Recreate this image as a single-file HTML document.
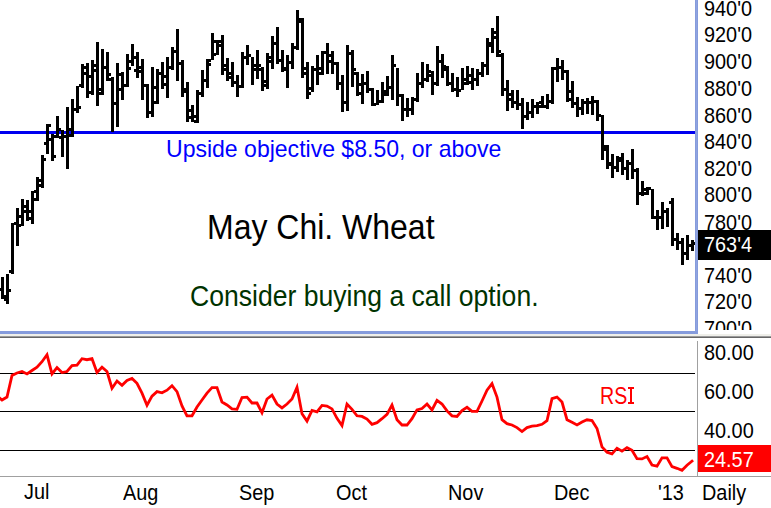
<!DOCTYPE html>
<html><head><meta charset="utf-8"><style>
html,body{margin:0;padding:0;background:#fff;}
body{width:771px;height:508px;position:relative;overflow:hidden;font-family:"Liberation Sans",sans-serif;}
.t{position:absolute;white-space:nowrap;line-height:1;}
.ax{font-size:19px;color:#000;}
</style></head><body>
<svg width="771" height="508" style="position:absolute;left:0;top:0">
<g shape-rendering="crispEdges">
<rect x="0" y="131" width="695" height="3" fill="#0000f0"/>
<g fill="#000"><rect x="1" y="277" width="3" height="22"/><rect x="6" y="274" width="3" height="30"/><rect x="11" y="223" width="3" height="51"/><rect x="16" y="208" width="3" height="38"/><rect x="21" y="199" width="3" height="27"/><rect x="26" y="200" width="3" height="21"/><rect x="31" y="191" width="3" height="33"/><rect x="36" y="177" width="3" height="24"/><rect x="41" y="155" width="3" height="33"/><rect x="46" y="124" width="3" height="30"/><rect x="51" y="134" width="3" height="27"/><rect x="56" y="116" width="3" height="22"/><rect x="61" y="130" width="3" height="27"/><rect x="66" y="107" width="3" height="62"/><rect x="71" y="99" width="3" height="38"/><rect x="76" y="86" width="3" height="27"/><rect x="81" y="64" width="3" height="24"/><rect x="86" y="63" width="3" height="35"/><rect x="91" y="60" width="3" height="35"/><rect x="96" y="42" width="3" height="64"/><rect x="101" y="49" width="3" height="46"/><rect x="106" y="52" width="3" height="29"/><rect x="111" y="77" width="3" height="55"/><rect x="116" y="63" width="3" height="64"/><rect x="121" y="72" width="3" height="28"/><rect x="126" y="54" width="3" height="33"/><rect x="131" y="44" width="3" height="22"/><rect x="136" y="52" width="3" height="26"/><rect x="141" y="59" width="3" height="41"/><rect x="146" y="84" width="3" height="34"/><rect x="151" y="67" width="3" height="50"/><rect x="156" y="69" width="3" height="35"/><rect x="161" y="62" width="3" height="27"/><rect x="166" y="57" width="3" height="41"/><rect x="171" y="47" width="3" height="23"/><rect x="176" y="29" width="3" height="52"/><rect x="181" y="60" width="3" height="37"/><rect x="186" y="82" width="3" height="40"/><rect x="191" y="105" width="3" height="17"/><rect x="196" y="90" width="3" height="33"/><rect x="201" y="70" width="3" height="27"/><rect x="206" y="59" width="3" height="29"/><rect x="211" y="33" width="3" height="27"/><rect x="216" y="40" width="3" height="15"/><rect x="221" y="35" width="3" height="40"/><rect x="226" y="58" width="3" height="23"/><rect x="231" y="62" width="3" height="25"/><rect x="236" y="75" width="3" height="22"/><rect x="241" y="52" width="3" height="36"/><rect x="246" y="45" width="3" height="20"/><rect x="251" y="57" width="3" height="28"/><rect x="256" y="50" width="3" height="29"/><rect x="261" y="67" width="3" height="24"/><rect x="266" y="53" width="3" height="36"/><rect x="271" y="36" width="3" height="33"/><rect x="276" y="27" width="3" height="37"/><rect x="281" y="50" width="3" height="22"/><rect x="286" y="55" width="3" height="33"/><rect x="291" y="43" width="3" height="26"/><rect x="296" y="10" width="3" height="40"/><rect x="301" y="18" width="3" height="60"/><rect x="306" y="62" width="3" height="37"/><rect x="311" y="66" width="3" height="26"/><rect x="316" y="55" width="3" height="30"/><rect x="321" y="51" width="3" height="24"/><rect x="326" y="43" width="3" height="31"/><rect x="331" y="51" width="3" height="23"/><rect x="336" y="62" width="3" height="28"/><rect x="341" y="75" width="3" height="37"/><rect x="346" y="45" width="3" height="66"/><rect x="351" y="50" width="3" height="37"/><rect x="356" y="72" width="3" height="24"/><rect x="361" y="74" width="3" height="30"/><rect x="366" y="71" width="3" height="22"/><rect x="371" y="88" width="3" height="18"/><rect x="376" y="90" width="3" height="15"/><rect x="381" y="82" width="3" height="21"/><rect x="386" y="76" width="3" height="20"/><rect x="391" y="55" width="3" height="45"/><rect x="396" y="68" width="3" height="38"/><rect x="401" y="94" width="3" height="27"/><rect x="406" y="98" width="3" height="19"/><rect x="411" y="97" width="3" height="18"/><rect x="416" y="73" width="3" height="29"/><rect x="421" y="62" width="3" height="26"/><rect x="426" y="64" width="3" height="18"/><rect x="431" y="71" width="3" height="24"/><rect x="436" y="46" width="3" height="40"/><rect x="441" y="54" width="3" height="24"/><rect x="446" y="66" width="3" height="20"/><rect x="451" y="73" width="3" height="19"/><rect x="456" y="77" width="3" height="20"/><rect x="461" y="68" width="3" height="22"/><rect x="466" y="66" width="3" height="19"/><rect x="471" y="68" width="3" height="22"/><rect x="476" y="69" width="3" height="17"/><rect x="481" y="62" width="3" height="15"/><rect x="486" y="38" width="3" height="37"/><rect x="491" y="28" width="3" height="25"/><rect x="496" y="16" width="3" height="41"/><rect x="501" y="53" width="3" height="43"/><rect x="506" y="80" width="3" height="31"/><rect x="511" y="90" width="3" height="18"/><rect x="516" y="90" width="3" height="20"/><rect x="521" y="98" width="3" height="31"/><rect x="526" y="102" width="3" height="18"/><rect x="531" y="99" width="3" height="19"/><rect x="536" y="102" width="3" height="12"/><rect x="541" y="96" width="3" height="12"/><rect x="546" y="94" width="3" height="15"/><rect x="551" y="67" width="3" height="37"/><rect x="556" y="58" width="3" height="24"/><rect x="561" y="60" width="3" height="20"/><rect x="566" y="70" width="3" height="32"/><rect x="571" y="81" width="3" height="27"/><rect x="576" y="97" width="3" height="20"/><rect x="581" y="99" width="3" height="16"/><rect x="586" y="98" width="3" height="16"/><rect x="591" y="96" width="3" height="19"/><rect x="596" y="100" width="3" height="21"/><rect x="601" y="115" width="3" height="45"/><rect x="606" y="145" width="3" height="24"/><rect x="611" y="154" width="3" height="24"/><rect x="616" y="156" width="3" height="16"/><rect x="621" y="153" width="3" height="22"/><rect x="626" y="160" width="3" height="20"/><rect x="631" y="149" width="3" height="30"/><rect x="636" y="168" width="3" height="37"/><rect x="641" y="181" width="3" height="15"/><rect x="646" y="187" width="3" height="8"/><rect x="651" y="189" width="3" height="30"/><rect x="656" y="210" width="3" height="20"/><rect x="661" y="202" width="3" height="27"/><rect x="666" y="208" width="3" height="19"/><rect x="671" y="198" width="3" height="48"/><rect x="676" y="233" width="3" height="17"/><rect x="681" y="238" width="3" height="27"/><rect x="686" y="235" width="3" height="25"/><rect x="691" y="240" width="3" height="11"/><rect x="4" y="295" width="2" height="3"/><rect x="4" y="298" width="2" height="3"/><rect x="9" y="289" width="2" height="3"/><rect x="9" y="270" width="2" height="3"/><rect x="14" y="222" width="2" height="3"/><rect x="19" y="215" width="2" height="3"/><rect x="19" y="224" width="2" height="3"/><rect x="24" y="205" width="2" height="3"/><rect x="24" y="210" width="2" height="3"/><rect x="29" y="210" width="2" height="3"/><rect x="29" y="217" width="2" height="3"/><rect x="34" y="190" width="2" height="3"/><rect x="34" y="198" width="2" height="3"/><rect x="39" y="179" width="2" height="3"/><rect x="39" y="184" width="2" height="3"/><rect x="44" y="142" width="2" height="3"/><rect x="44" y="158" width="2" height="3"/><rect x="49" y="124" width="2" height="3"/><rect x="49" y="138" width="2" height="3"/><rect x="54" y="135" width="2" height="3"/><rect x="54" y="155" width="2" height="3"/><rect x="59" y="128" width="2" height="3"/><rect x="59" y="136" width="2" height="3"/><rect x="64" y="135" width="2" height="3"/><rect x="69" y="128" width="2" height="3"/><rect x="69" y="134" width="2" height="3"/><rect x="74" y="108" width="2" height="3"/><rect x="79" y="106" width="2" height="3"/><rect x="79" y="84" width="2" height="3"/><rect x="84" y="66" width="2" height="3"/><rect x="84" y="72" width="2" height="3"/><rect x="89" y="75" width="2" height="3"/><rect x="89" y="91" width="2" height="3"/><rect x="94" y="64" width="2" height="3"/><rect x="94" y="69" width="2" height="3"/><rect x="99" y="88" width="2" height="3"/><rect x="99" y="92" width="2" height="3"/><rect x="104" y="66" width="2" height="3"/><rect x="109" y="73" width="2" height="3"/><rect x="109" y="78" width="2" height="3"/><rect x="114" y="102" width="2" height="3"/><rect x="119" y="73" width="2" height="3"/><rect x="119" y="88" width="2" height="3"/><rect x="124" y="84" width="2" height="3"/><rect x="129" y="60" width="2" height="3"/><rect x="129" y="67" width="2" height="3"/><rect x="134" y="56" width="2" height="3"/><rect x="134" y="69" width="2" height="3"/><rect x="139" y="66" width="2" height="3"/><rect x="139" y="70" width="2" height="3"/><rect x="144" y="84" width="2" height="3"/><rect x="149" y="111" width="2" height="3"/><rect x="154" y="86" width="2" height="3"/><rect x="154" y="101" width="2" height="3"/><rect x="159" y="72" width="2" height="3"/><rect x="164" y="75" width="2" height="3"/><rect x="164" y="83" width="2" height="3"/><rect x="169" y="66" width="2" height="3"/><rect x="174" y="50" width="2" height="3"/><rect x="179" y="62" width="2" height="3"/><rect x="184" y="88" width="2" height="3"/><rect x="184" y="90" width="2" height="3"/><rect x="189" y="109" width="2" height="3"/><rect x="189" y="116" width="2" height="3"/><rect x="194" y="115" width="2" height="3"/><rect x="194" y="120" width="2" height="3"/><rect x="199" y="92" width="2" height="3"/><rect x="204" y="79" width="2" height="3"/><rect x="209" y="59" width="2" height="3"/><rect x="209" y="63" width="2" height="3"/><rect x="214" y="40" width="2" height="3"/><rect x="214" y="53" width="2" height="3"/><rect x="219" y="40" width="2" height="3"/><rect x="219" y="44" width="2" height="3"/><rect x="224" y="64" width="2" height="3"/><rect x="224" y="68" width="2" height="3"/><rect x="229" y="72" width="2" height="3"/><rect x="229" y="76" width="2" height="3"/><rect x="234" y="81" width="2" height="3"/><rect x="239" y="85" width="2" height="3"/><rect x="244" y="56" width="2" height="3"/><rect x="249" y="54" width="2" height="3"/><rect x="254" y="64" width="2" height="3"/><rect x="254" y="68" width="2" height="3"/><rect x="259" y="64" width="2" height="3"/><rect x="259" y="68" width="2" height="3"/><rect x="264" y="80" width="2" height="3"/><rect x="264" y="84" width="2" height="3"/><rect x="269" y="56" width="2" height="3"/><rect x="269" y="60" width="2" height="3"/><rect x="274" y="42" width="2" height="3"/><rect x="279" y="59" width="2" height="3"/><rect x="284" y="67" width="2" height="3"/><rect x="284" y="68" width="2" height="3"/><rect x="289" y="61" width="2" height="3"/><rect x="294" y="46" width="2" height="3"/><rect x="299" y="18" width="2" height="3"/><rect x="299" y="20" width="2" height="3"/><rect x="304" y="67" width="2" height="3"/><rect x="304" y="72" width="2" height="3"/><rect x="309" y="87" width="2" height="3"/><rect x="309" y="92" width="2" height="3"/><rect x="314" y="68" width="2" height="3"/><rect x="319" y="67" width="2" height="3"/><rect x="319" y="72" width="2" height="3"/><rect x="324" y="51" width="2" height="3"/><rect x="329" y="54" width="2" height="3"/><rect x="329" y="60" width="2" height="3"/><rect x="334" y="62" width="2" height="3"/><rect x="339" y="82" width="2" height="3"/><rect x="344" y="101" width="2" height="3"/><rect x="349" y="52" width="2" height="3"/><rect x="354" y="68" width="2" height="3"/><rect x="354" y="72" width="2" height="3"/><rect x="359" y="83" width="2" height="3"/><rect x="359" y="92" width="2" height="3"/><rect x="364" y="82" width="2" height="3"/><rect x="369" y="88" width="2" height="3"/><rect x="374" y="103" width="2" height="3"/><rect x="379" y="100" width="2" height="3"/><rect x="384" y="90" width="2" height="3"/><rect x="384" y="93" width="2" height="3"/><rect x="389" y="86" width="2" height="3"/><rect x="394" y="64" width="2" height="3"/><rect x="399" y="94" width="2" height="3"/><rect x="404" y="108" width="2" height="3"/><rect x="409" y="108" width="2" height="3"/><rect x="414" y="98" width="2" height="3"/><rect x="419" y="82" width="2" height="3"/><rect x="424" y="78" width="2" height="3"/><rect x="429" y="70" width="2" height="3"/><rect x="429" y="74" width="2" height="3"/><rect x="434" y="82" width="2" height="3"/><rect x="439" y="60" width="2" height="3"/><rect x="444" y="65" width="2" height="3"/><rect x="444" y="68" width="2" height="3"/><rect x="449" y="82" width="2" height="3"/><rect x="454" y="88" width="2" height="3"/><rect x="459" y="89" width="2" height="3"/><rect x="464" y="78" width="2" height="3"/><rect x="464" y="82" width="2" height="3"/><rect x="469" y="74" width="2" height="3"/><rect x="469" y="81" width="2" height="3"/><rect x="474" y="78" width="2" height="3"/><rect x="479" y="72" width="2" height="3"/><rect x="484" y="64" width="2" height="3"/><rect x="489" y="42" width="2" height="3"/><rect x="489" y="44" width="2" height="3"/><rect x="494" y="31" width="2" height="3"/><rect x="494" y="36" width="2" height="3"/><rect x="499" y="50" width="2" height="3"/><rect x="499" y="54" width="2" height="3"/><rect x="504" y="88" width="2" height="3"/><rect x="509" y="93" width="2" height="3"/><rect x="509" y="98" width="2" height="3"/><rect x="514" y="101" width="2" height="3"/><rect x="519" y="103" width="2" height="3"/><rect x="524" y="115" width="2" height="3"/><rect x="529" y="111" width="2" height="3"/><rect x="534" y="105" width="2" height="3"/><rect x="539" y="101" width="2" height="3"/><rect x="539" y="105" width="2" height="3"/><rect x="544" y="105" width="2" height="3"/><rect x="549" y="100" width="2" height="3"/><rect x="554" y="67" width="2" height="3"/><rect x="559" y="66" width="2" height="3"/><rect x="564" y="70" width="2" height="3"/><rect x="569" y="90" width="2" height="3"/><rect x="569" y="98" width="2" height="3"/><rect x="574" y="102" width="2" height="3"/><rect x="579" y="107" width="2" height="3"/><rect x="584" y="101" width="2" height="3"/><rect x="589" y="101" width="2" height="3"/><rect x="594" y="100" width="2" height="3"/><rect x="599" y="114" width="2" height="3"/><rect x="604" y="145" width="2" height="3"/><rect x="604" y="148" width="2" height="3"/><rect x="609" y="162" width="2" height="3"/><rect x="609" y="163" width="2" height="3"/><rect x="614" y="166" width="2" height="3"/><rect x="614" y="166" width="2" height="3"/><rect x="619" y="157" width="2" height="3"/><rect x="619" y="159" width="2" height="3"/><rect x="624" y="167" width="2" height="3"/><rect x="629" y="162" width="2" height="3"/><rect x="634" y="169" width="2" height="3"/><rect x="639" y="192" width="2" height="3"/><rect x="644" y="188" width="2" height="3"/><rect x="644" y="192" width="2" height="3"/><rect x="649" y="187" width="2" height="3"/><rect x="654" y="216" width="2" height="3"/><rect x="659" y="216" width="2" height="3"/><rect x="664" y="210" width="2" height="3"/><rect x="669" y="201" width="2" height="3"/><rect x="674" y="238" width="2" height="3"/><rect x="679" y="241" width="2" height="3"/><rect x="684" y="252" width="2" height="3"/><rect x="689" y="244" width="2" height="3"/><rect x="-1" y="288" width="2" height="3"/><rect x="694" y="242" width="2" height="3"/></g>
<rect x="695" y="0" width="3" height="334" fill="#859bdc"/><rect x="696" y="0" width="1" height="331" fill="#90a4e0"/>
<rect x="0" y="331" width="695" height="3" fill="#859bdc"/>
<rect x="0" y="334" width="771" height="2" fill="#efefea"/>
<rect x="0" y="336" width="771" height="1" fill="#9a9a9a"/><rect x="0" y="337" width="771" height="1" fill="#666"/>
<rect x="0" y="373" width="695" height="1" fill="#000"/>
<rect x="0" y="411" width="695" height="1" fill="#000"/>
<rect x="0" y="450" width="695" height="1" fill="#000"/>
<rect x="697" y="341" width="1" height="135" fill="#a0a0a0"/>
<rect x="0" y="476" width="771" height="1" fill="#a0a0a0"/>
<rect x="698" y="230" width="73" height="30" fill="#000"/>
<rect x="698" y="445" width="73" height="27" fill="#f00"/>
</g>
<polyline points="-3,396 2,400.0 7,397.0 12,375.4 17,373.0 22,371.5 27,373.9 32,370.5 37,367.2 42,361.7 47,354.8 52,373.9 57,367.6 62,372.5 67,371.5 72,365.6 77,365.2 82,358.7 87,359.7 92,358.7 97,372.5 102,367.2 107,371.5 112,388.2 117,381.0 122,385.3 127,380.4 132,378.4 137,383.3 142,393.1 147,405.2 152,396.1 157,391.6 162,392.8 167,390.2 172,385.7 177,391.6 182,406.0 187,415.8 192,415.8 197,407.0 202,400.0 207,393.1 212,387.6 217,387.6 222,402.0 227,405.0 232,408.9 237,409.3 242,397.5 247,397.1 252,403.0 257,403.0 262,412.8 267,399.0 272,395.1 277,404.0 282,407.9 287,404.0 292,399.0 297,387.2 302,413.8 307,421.1 312,410.5 317,411.9 322,405.4 327,406.0 332,408.9 337,418.3 342,425.6 347,404.0 352,409.3 357,415.8 362,416.4 367,419.1 372,424.3 377,422.7 382,418.7 387,414.4 392,405.0 397,419.7 402,425.0 407,425.0 412,418.7 417,409.9 422,408.5 427,404.0 432,409.9 437,400.3 442,404.0 447,410.9 452,415.8 457,416.4 462,410.5 467,407.3 472,411.3 477,411.3 482,401.0 487,390.2 492,383.7 497,397.1 502,419.7 507,423.7 512,425.0 517,427.6 522,431.5 527,427.6 532,426.2 537,425.6 542,424.3 547,420.7 552,398.7 557,397.1 562,402.0 567,419.7 572,422.3 577,425.0 582,422.0 587,419.8 592,420.5 597,428.5 602,446.9 607,452.2 612,453.9 617,448.2 622,451.1 627,447.7 632,450.2 637,458.6 642,458.9 647,456.6 652,465.0 657,466.1 662,457.8 667,457.8 672,466.6 677,468.3 682,470.3 687,465.3 692,461.1" fill="none" stroke="#f00" stroke-width="2.8" stroke-linejoin="miter" stroke-linecap="square"/>
</svg>
<div style="position:absolute;left:698px;top:0;width:73px;height:330px;overflow:hidden">
<div class="t" style="left:6.0px;top:-1.9px;font-size:21.7px;color:#000;transform:scaleX(0.916);transform-origin:left top;">940'0</div>
<div class="t" style="left:6.0px;top:24.28px;font-size:21.7px;color:#000;transform:scaleX(0.916);transform-origin:left top;">920'0</div>
<div class="t" style="left:6.0px;top:51.46px;font-size:21.7px;color:#000;transform:scaleX(0.916);transform-origin:left top;">900'0</div>
<div class="t" style="left:6.0px;top:77.63999999999999px;font-size:21.7px;color:#000;transform:scaleX(0.916);transform-origin:left top;">880'0</div>
<div class="t" style="left:6.0px;top:104.82px;font-size:21.7px;color:#000;transform:scaleX(0.916);transform-origin:left top;">860'0</div>
<div class="t" style="left:6.0px;top:131.0px;font-size:21.7px;color:#000;transform:scaleX(0.916);transform-origin:left top;">840'0</div>
<div class="t" style="left:6.0px;top:158.17999999999998px;font-size:21.7px;color:#000;transform:scaleX(0.916);transform-origin:left top;">820'0</div>
<div class="t" style="left:6.0px;top:184.35999999999999px;font-size:21.7px;color:#000;transform:scaleX(0.916);transform-origin:left top;">800'0</div>
<div class="t" style="left:6.0px;top:211.54px;font-size:21.7px;color:#000;transform:scaleX(0.916);transform-origin:left top;">780'0</div>
<div class="t" style="left:6.0px;top:264.90000000000003px;font-size:21.7px;color:#000;transform:scaleX(0.916);transform-origin:left top;">740'0</div>
<div class="t" style="left:6.0px;top:291.08000000000004px;font-size:21.7px;color:#000;transform:scaleX(0.916);transform-origin:left top;">720'0</div>
<div class="t" style="left:6.0px;top:318.26px;font-size:21.7px;color:#000;transform:scaleX(0.916);transform-origin:left top;">700'0</div>
<div class="t" style="left:6.0px;top:233.80599999999998px;font-size:21.7px;color:#fff;transform:scaleX(0.916);transform-origin:left top;">763'4</div>
</div>
<div class="t" style="left:704.0px;top:341.5px;font-size:21.7px;color:#000;transform:scaleX(0.916);transform-origin:left top;">80.00</div>
<div class="t" style="left:704.0px;top:380.5px;font-size:21.7px;color:#000;transform:scaleX(0.916);transform-origin:left top;">60.00</div>
<div class="t" style="left:704.0px;top:419.5px;font-size:21.7px;color:#000;transform:scaleX(0.916);transform-origin:left top;">40.00</div>
<div class="t" style="left:704.0px;top:448.75px;font-size:21.7px;color:#fff;transform:scaleX(0.916);transform-origin:left top;">24.57</div>
<div class="t" style="left:24.0px;top:481.0px;font-size:21.7px;color:#000;transform:scaleX(0.916);transform-origin:left top;">Jul</div>
<div class="t" style="left:123.25px;top:482.0px;font-size:21.7px;color:#000;transform:scaleX(0.916);transform-origin:left top;">Aug</div>
<div class="t" style="left:238.5px;top:481.5px;font-size:21.7px;color:#000;transform:scaleX(0.916);transform-origin:left top;">Sep</div>
<div class="t" style="left:335.75px;top:481.5px;font-size:21.7px;color:#000;transform:scaleX(0.916);transform-origin:left top;">Oct</div>
<div class="t" style="left:448.25px;top:482.0px;font-size:21.7px;color:#000;transform:scaleX(0.916);transform-origin:left top;">Nov</div>
<div class="t" style="left:553.5px;top:482.0px;font-size:21.7px;color:#000;transform:scaleX(0.916);transform-origin:left top;">Dec</div>
<div class="t" style="left:658.25px;top:482.0px;font-size:21.7px;color:#000;transform:scaleX(0.916);transform-origin:left top;">'13</div>
<div class="t" style="left:701.8px;top:482.0px;font-size:21.7px;color:#000;transform:scaleX(0.916);transform-origin:left top;">Daily</div>
<div class="t" style="left:166.0px;top:136.5px;font-size:24px;color:#0000ff;transform:scaleX(0.9595);transform-origin:left top;">Upside objective $8.50, or above</div>
<div class="t" style="left:207.0px;top:210.1px;font-size:34.3px;color:#000;transform:scaleX(0.9326);transform-origin:left top;">May Chi. Wheat</div>
<div class="t" style="left:189.8px;top:282.0px;font-size:28.8px;color:#003300;transform:scaleX(0.9226);transform-origin:left top;">Consider buying a call option.</div>
<div class="t" style="left:600.2px;top:384.65px;font-size:23.5px;color:#ff0000;transform:scaleX(0.8331);transform-origin:left top;">RS</div>
<div style="position:absolute;left:630.1px;top:387px;width:2.3px;height:16.8px;background:#f00"></div>
<div style="position:absolute;left:628.1px;top:387px;width:6.3px;height:1.6px;background:#f00"></div>
<div style="position:absolute;left:628.1px;top:402.2px;width:6.3px;height:1.6px;background:#f00"></div>
</body></html>
